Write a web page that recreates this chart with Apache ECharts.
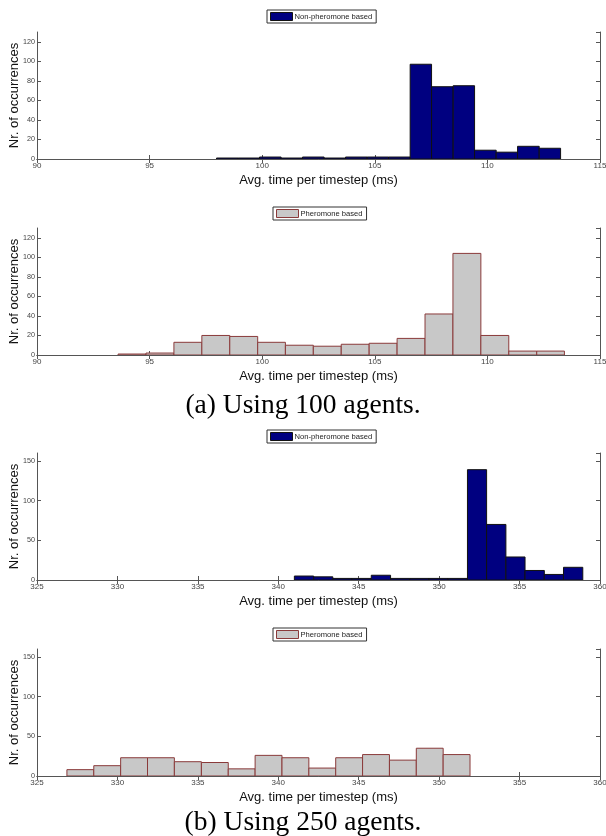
<!DOCTYPE html>
<html>
<head>
<meta charset="utf-8">
<script src="https://cdn.jsdelivr.net/npm/echarts@6/dist/echarts.min.js"></script>
<style>
  html, body { margin: 0; padding: 0; background: #fff; }
  #chart { width: 606px; height: 836px; }
</style>
</head>
<body>
<div id="chart"></div>
<script>
// histogram bin edges and counts
const edges100Non = [97.97, 98.93, 99.88, 100.84, 101.79, 102.75, 103.70, 104.66, 105.61,
  106.57, 107.52, 108.48, 109.43, 110.39, 111.34, 112.30, 113.25]
const counts100Non = [1, 1, 2, 1, 2, 1, 2, 2, 2, 97, 74, 75, 9, 7, 13, 11]

const edges100Ph = [93.60, 94.84, 96.08, 97.32, 98.56, 99.80, 101.03, 102.27, 103.51,
  104.75, 105.99, 107.23, 108.47, 109.71, 110.95, 112.19, 113.42]
const counts100Ph = [1, 2, 13, 20, 19, 13, 10, 9, 11, 12, 17, 42, 104, 20, 4, 4]

const edges250Non = [341.00, 342.20, 343.39, 344.59, 345.78, 346.98, 348.17, 349.37,
  350.56, 351.76, 352.95, 354.15, 355.34, 356.54, 357.73, 358.93]
const counts250Non = [5, 4, 2, 2, 6, 2, 2, 2, 2, 139, 70, 29, 12, 7, 16]

const edges250Ph = [326.86, 328.53, 330.20, 331.87, 333.54, 335.22, 336.89, 338.56,
  340.23, 341.90, 343.57, 345.24, 346.91, 348.58, 350.25, 351.92]
const counts250Ph = [8, 13, 23, 23, 18, 17, 9, 26, 23, 10, 23, 27, 20, 35, 27]

const xRange100 = [90, 115]
const xRange250 = [325, 360]
const yMax100 = 130
const yMax250 = 160

const NON = 'Non-pheromone based'
const PH = 'Pheromone based'
const nonStyle = { color: '#000080', borderColor: '#111', borderWidth: 1 }
const phStyle = { color: '#c8c8c8', borderColor: '#8a3a3a', borderWidth: 1 }

const panels = [
  { name: NON, edges: edges100Non, counts: counts100Non, x: xRange100, yMax: yMax100, yInt: 20, top: 32, legendLeft: 267, legendTop: 10, style: nonStyle },
  { name: PH, edges: edges100Ph, counts: counts100Ph, x: xRange100, yMax: yMax100, yInt: 20, top: 228, legendLeft: 273, legendTop: 207, style: phStyle },
  { name: NON, edges: edges250Non, counts: counts250Non, x: xRange250, yMax: yMax250, yInt: 50, top: 453, legendLeft: 267, legendTop: 430, style: nonStyle },
  { name: PH, edges: edges250Ph, counts: counts250Ph, x: xRange250, yMax: yMax250, yInt: 50, top: 649, legendLeft: 273, legendTop: 628, style: phStyle }
]

const axisColor = '#555'
const labelFont = { fontFamily: 'Liberation Sans', fontSize: 8, color: '#444' }
const nameFont = { fontFamily: 'Liberation Sans', fontSize: 13, color: '#111' }

function toBins(edges, counts) {
  return counts.map((c, i) => [edges[i], edges[i + 1], c])
}

function renderBin(params, api) {
  const p0 = api.coord([api.value(0), api.value(2)])
  const p1 = api.coord([api.value(1), 0])
  return {
    type: 'rect',
    shape: { x: p0[0], y: p0[1], width: p1[0] - p0[0], height: p1[1] - p0[1] },
    style: api.style()
  }
}

const grid = [], xAxis = [], yAxis = [], series = [], legend = []
panels.forEach((p, i) => {
  grid.push({ left: 37, right: 6, top: p.top, height: 127, outerBoundsMode: 'none', containLabel: false })
  const common = {
    gridIndex: i,
    axisLine: { show: true, lineStyle: { color: axisColor, width: 1 } },
    axisTick: { show: true, inside: true, length: 4, lineStyle: { color: axisColor } },
    splitLine: { show: false }
  }
  xAxis.push(Object.assign({}, common, {
    type: 'value', position: 'bottom', min: p.x[0], max: p.x[1], interval: 5,
    axisLabel: Object.assign({ margin: 3 }, labelFont),
    name: 'Avg. time per timestep (ms)', nameLocation: 'middle', nameGap: 15,
    nameMoveOverlap: false,
    nameTextStyle: nameFont
  }))
  xAxis.push(Object.assign({}, common, {
    type: 'value', position: 'top', min: p.x[0], max: p.x[1], interval: 5,
    axisLabel: { show: false }
  }))
  yAxis.push(Object.assign({}, common, {
    type: 'value', position: 'left', min: 0, max: p.yMax, interval: p.yInt,
    axisLabel: Object.assign({ margin: 2, showMaxLabel: false }, labelFont, { fontSize: 7.2 }),
    name: 'Nr. of occurrences', nameLocation: 'middle', nameGap: 16,
    nameMoveOverlap: false,
    nameTextStyle: nameFont
  }))
  yAxis.push(Object.assign({}, common, {
    type: 'value', position: 'right', min: 0, max: p.yMax, interval: p.yInt,
    axisLabel: { show: false }
  }))
  series.push({
    type: 'custom',
    name: p.name,
    xAxisIndex: 2 * i,
    yAxisIndex: 2 * i,
    renderItem: renderBin,
    itemStyle: p.style,
    encode: { x: [0, 1], y: 2 },
    data: toBins(p.edges, p.counts),
    clip: true,
    animation: false
  })
  legend.push({
    data: [p.name],
    left: p.legendLeft,
    top: p.legendTop,
    orient: 'horizontal',
    icon: 'rect',
    itemWidth: 22,
    itemHeight: 8,
    itemStyle: p.style,
    padding: [2, 4, 2, 3],
    borderColor: '#333',
    borderWidth: 1,
    selectedMode: false,
    textStyle: { fontFamily: 'Liberation Sans', fontSize: 7.6, color: '#222', padding: [0, 0, 0, -3] }
  })
})

const captionFont = { fontFamily: 'Liberation Serif', fontSize: 27.5, fontWeight: 'normal', color: '#000' }

const chart = echarts.init(document.getElementById('chart'))
chart.setOption({
  animation: false,
  backgroundColor: '#fff',
  title: [
    { text: '(a) Using 100 agents.', left: 'center', top: 387, textStyle: captionFont },
    { text: '(b) Using 250 agents.', left: 'center', top: 804, textStyle: captionFont }
  ],
  legend: legend,
  grid: grid,
  xAxis: xAxis,
  yAxis: yAxis,
  series: series
})
</script>
</body>
</html>
